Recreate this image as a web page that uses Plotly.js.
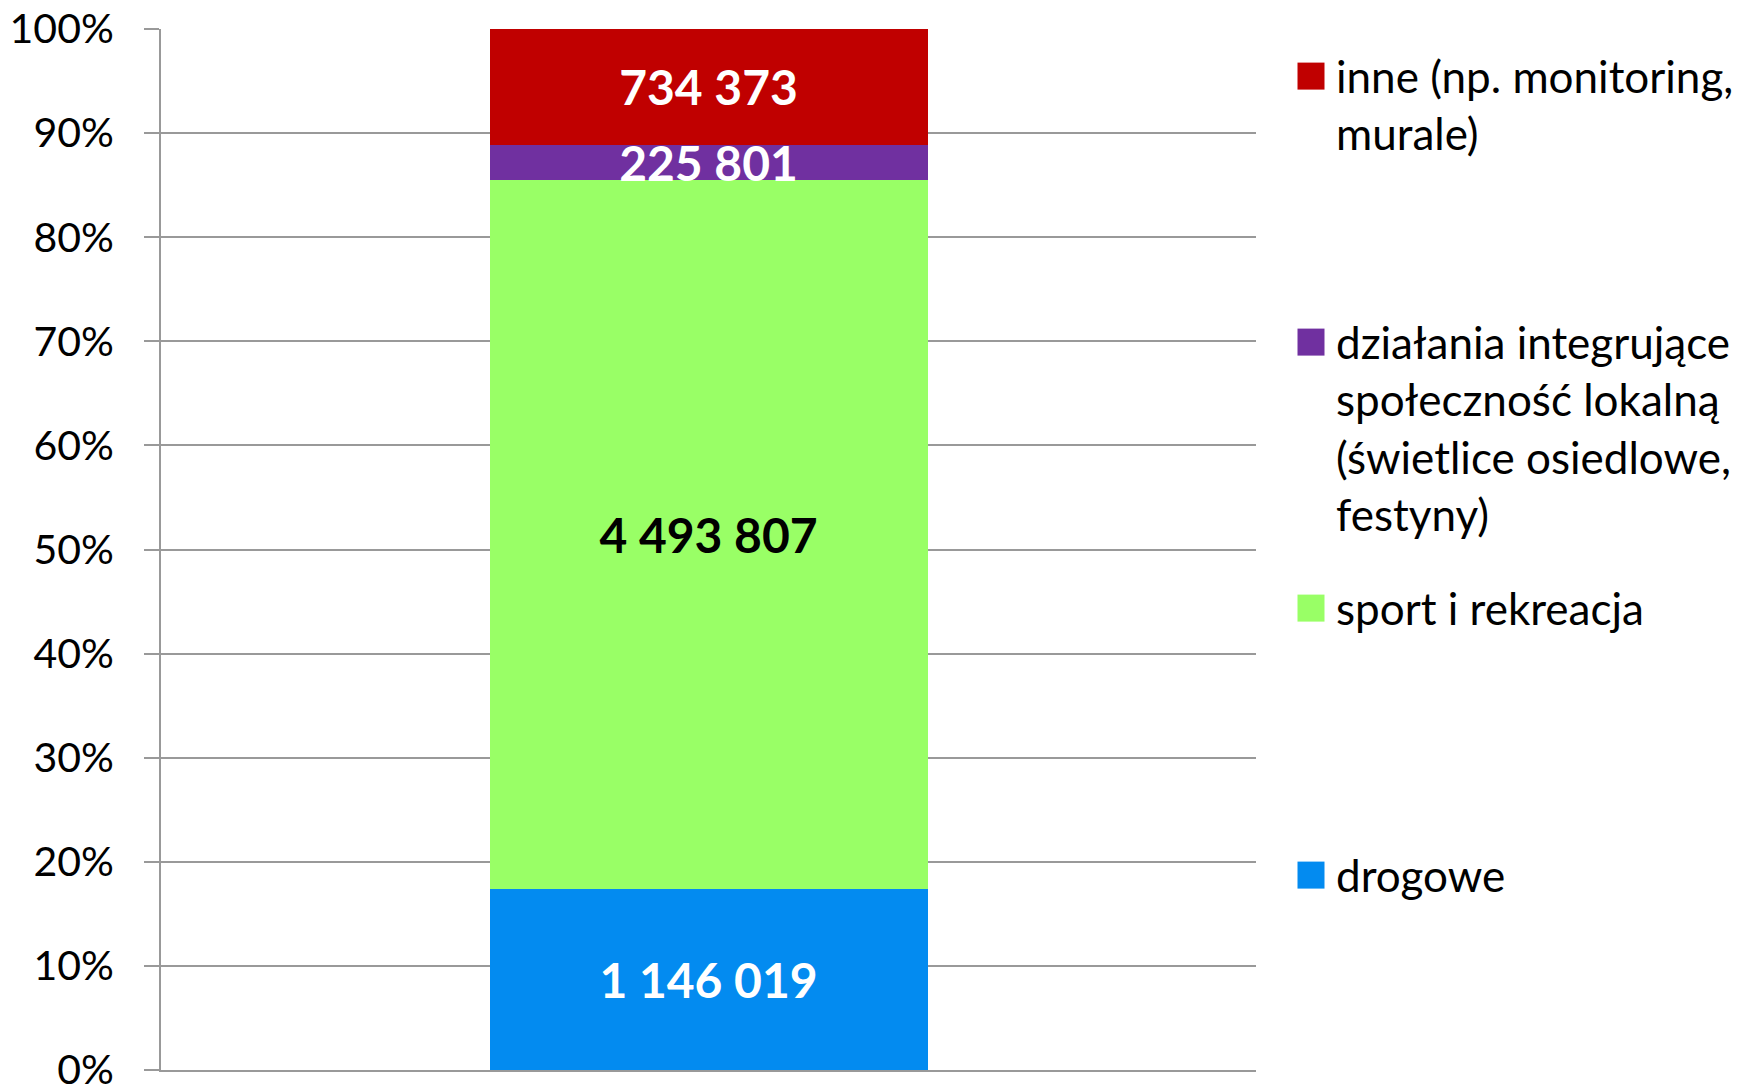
<!DOCTYPE html>
<html><head><meta charset="utf-8">
<script src="https://cdn.plot.ly/plotly-3.0.1.min.js"></script>
<style>html,body{margin:0;padding:0;background:#fff}#chart{width:1752px;height:1086px}</style>
</head><body><div id="chart"></div>
<script>
const categories = ['ogółem'];
const seriesNames = [
  'drogowe',
  'sport i rekreacja',
  'działania integrujące<br>społeczność lokalną<br>(świetlice osiedlowe,<br>festyny)',
  'inne (np. monitoring,<br>murale)'
];
const drogowe = [1146019];
const sport = [4493807];
const dzialania = [225801];
const inne = [734373];
const yTickValues = [0, 10, 20, 30, 40, 50, 60, 70, 80, 90, 100];
const yTickLabels = ['0%', '10%', '20%', '30%', '40%', '50%', '60%', '70%', '80%', '90%', '100%'];

const seriesValues = [drogowe, sport, dzialania, inne];
const colors = ['#038BF0', '#99FF66', '#7030A0', '#C00000'];
const textColors = ['#FFFFFF', '#000000', '#FFFFFF', '#FFFFFF'];
const legendIds = ['legend4', 'legend3', 'legend2', 'legend'];

const fmt = v => String(v).replace(/\B(?=(\d{3})+(?!\d))/g, ' ');

const L = 161, R = 1256, T = 29, B = 1070;
const px2x = p => (p - L) / (R - L);
const py2y = p => (B - p) / (B - T);

const traces = seriesValues.map((vals, i) => ({
  type: 'bar',
  name: seriesNames[i],
  x: categories,
  y: vals,
  width: 0.4,
  marker: {color: colors[i], line: {width: 0}},
  text: vals.map(fmt),
  textposition: 'inside',
  insidetextanchor: 'middle',
  constraintext: 'none',
  textfont: {family: 'Lato, sans-serif', size: 48, color: textColors[i], weight: 'bold'},
  hoverinfo: 'skip',
  legend: legendIds[i]
}));

const legendBase = top => ({
  x: px2x(1296), xanchor: 'left',
  y: py2y(top), yanchor: 'top',
  font: {family: 'Lato, sans-serif', size: 44, color: '#000'},
  bgcolor: 'rgba(0,0,0,0)', borderwidth: 0, valign: 'top',
  itemclick: false, itemdoubleclick: false
});

const layout = {
  width: 1752, height: 1086,
  margin: {l: L, r: 1752 - R, t: T, b: 1086 - B, pad: 0},
  paper_bgcolor: '#fff', plot_bgcolor: '#fff',
  barmode: 'stack', barnorm: 'percent',
  showlegend: true,
  xaxis: {type: 'category', range: [-0.5, 0.5], showticklabels: false, ticks: '',
          showgrid: false, zeroline: false, showline: true, linecolor: '#999999', linewidth: 2, fixedrange: true},
  yaxis: {range: [0, 100], tickvals: yTickValues, ticktext: yTickLabels,
          ticks: 'outside', ticklen: 15, tickwidth: 2, tickcolor: '#999999',
          showgrid: true, gridcolor: '#999999', gridwidth: 2, zeroline: false,
          showline: true, linecolor: '#999999', linewidth: 2,
          ticklabelstandoff: 22, ticklabeloverflow: 'allow',
          automargin: false,
          tickfont: {family: 'Lato, sans-serif', size: 41, color: '#000'}, fixedrange: true},
  legend: legendBase(41),
  legend2: legendBase(307),
  legend3: legendBase(573),
  legend4: legendBase(840)
};

function bigSquares(gd) {
  gd.querySelectorAll('.legendpoints path').forEach(p => p.setAttribute('d', 'M8.5,13.5H-18.5V-13.5H8.5Z'));
}

Plotly.newPlot('chart', traces, layout, {displayModeBar: false, staticPlot: true}).then(gd => {
  bigSquares(gd);
  gd.on('plotly_afterplot', () => bigSquares(gd));
  setTimeout(() => bigSquares(gd), 50);
});
</script>
</body></html>
